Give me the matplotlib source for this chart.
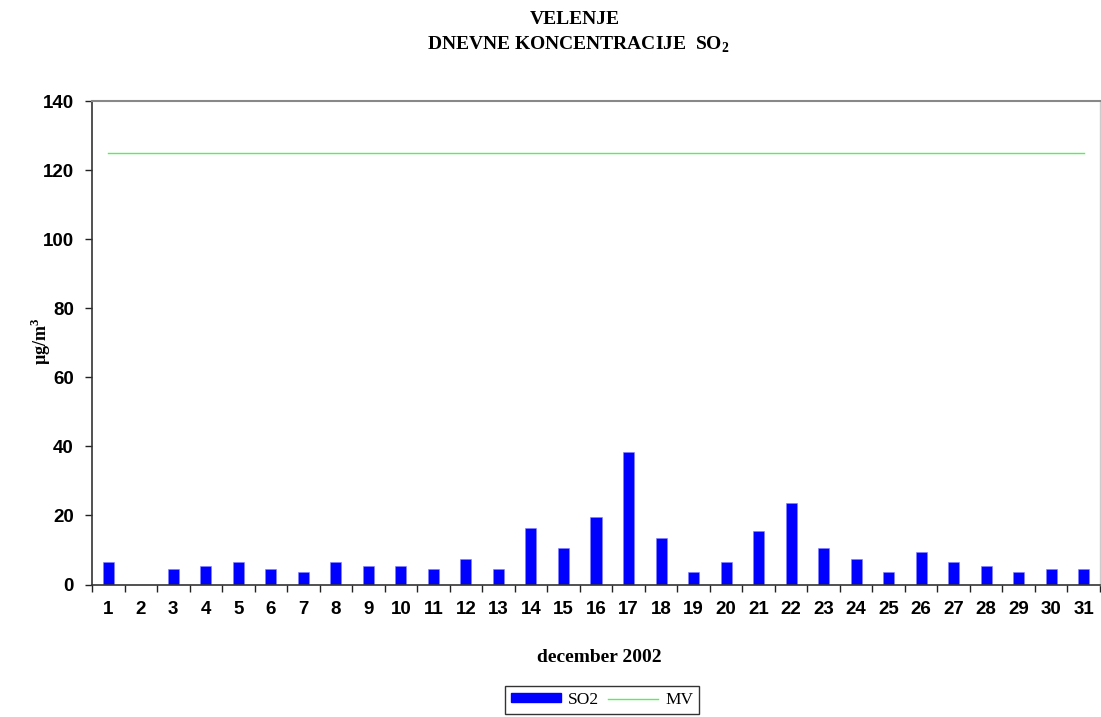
import numpy as np
import matplotlib
matplotlib.use("Agg")
import matplotlib.pyplot as plt
from matplotlib.patches import Patch
from matplotlib.lines import Line2D

plt.rcParams["mathtext.fontset"] = "custom"
plt.rcParams["mathtext.rm"] = "Liberation Serif"
plt.rcParams["mathtext.bf"] = "Liberation Serif:bold"

days = list(range(1, 32))
so2 = [6.5, np.nan, 4.5, 5.5, 6.5, 4.5, 3.5, 6.5, 5.5, 5.5, 4.5, 7.5, 4.5, 16.5, 10.5,
       19.5, 38.5, 13.5, 3.5, 6.5, 15.5, 23.5, 10.5, 7.5, 3.5, 9.5, 6.5, 5.5, 3.5, 4.5, 4.5]
mv = [125] * 31
yticks = list(range(0, 141, 20))

W, H = 1101, 717
fig = plt.figure(figsize=(W / 100, H / 100), dpi=100)
ax = fig.add_axes([92 / W, 1 - 584.5 / H, (1100 - 92) / W, (584.5 - 101) / H])

ax.bar(days, so2, width=0.34, color="#0000ff", edgecolor="#8080ff", linewidth=0.4, zorder=2)
ax.plot(days, mv, color="#55f055", linewidth=1.0, zorder=3)

ax.set_xlim(0.5, 31.5)
ax.set_ylim(0, 140)
ax.set_yticks(yticks)
ax.set_yticklabels([str(v) for v in yticks], fontfamily="Liberation Sans",
                   fontweight="bold", fontsize=13.5)
ax.set_xticks(np.arange(0.5, 32, 1))
ax.set_xticklabels([])
ax.set_xticks(days, minor=True)
ax.set_xticklabels([str(d) for d in days], minor=True, fontfamily="Liberation Sans",
                   fontweight="bold", fontsize=13.5)
ax.tick_params(axis="x", which="major", direction="out", length=5, width=1, color="#222222")
ax.tick_params(axis="x", which="minor", length=0, pad=12)
ax.tick_params(axis="y", direction="out", length=5, width=1, color="#222222", pad=8)

ax.spines["left"].set_color("#333333")
ax.spines["left"].set_linewidth(1.2)
ax.spines["bottom"].set_color("#333333")
ax.spines["bottom"].set_linewidth(1.2)
ax.spines["top"].set_color("#888888")
ax.spines["top"].set_linewidth(1.5)
ax.spines["right"].set_color("#cccccc")
ax.spines["right"].set_linewidth(1.0)

ax.set_xlabel("december 2002", fontfamily="Liberation Serif", fontweight="bold",
              fontsize=14)
ax.xaxis.set_label_coords((599 - 92) / 1008, -(649 - 584.5) / 483.5)
ax.set_ylabel("µg/m$^\\mathbf{3}$", fontfamily="Liberation Serif", fontweight="bold",
              fontsize=13)
ax.yaxis.set_label_coords(-(92 - 53) / 1008, (584.5 - 341) / 483.5)

fig.text(575 / W, 1 - 19 / H, "VELENJE", ha="center", va="center",
         fontfamily="Liberation Serif", fontweight="bold", fontsize=14)
fig.text(578 / W, 1 - 45 / H, "DNEVNE KONCENTRACIJE  SO$_\\mathbf{2}$", ha="center", va="center",
         fontfamily="Liberation Serif", fontweight="bold", fontsize=14)

handles = [Patch(facecolor="#0000ff", edgecolor="#0000ff"),
           Line2D([0], [0], color="#55f055", linewidth=1.0)]
leg = fig.legend(handles, ["SO2", "MV"], loc="upper center",
                 bbox_to_anchor=(602 / W, 1 - 686 / H), ncol=2, frameon=True,
                 fancybox=False, edgecolor="#333333", framealpha=1,
                 prop={"family": "Liberation Serif", "size": 12.5},
                 handlelength=2.9, handleheight=0.4, handletextpad=0.4,
                 columnspacing=0.5, borderpad=0.35, borderaxespad=0)
leg.get_frame().set_linewidth(1.0)

fig.savefig("out.png", dpi=100)
